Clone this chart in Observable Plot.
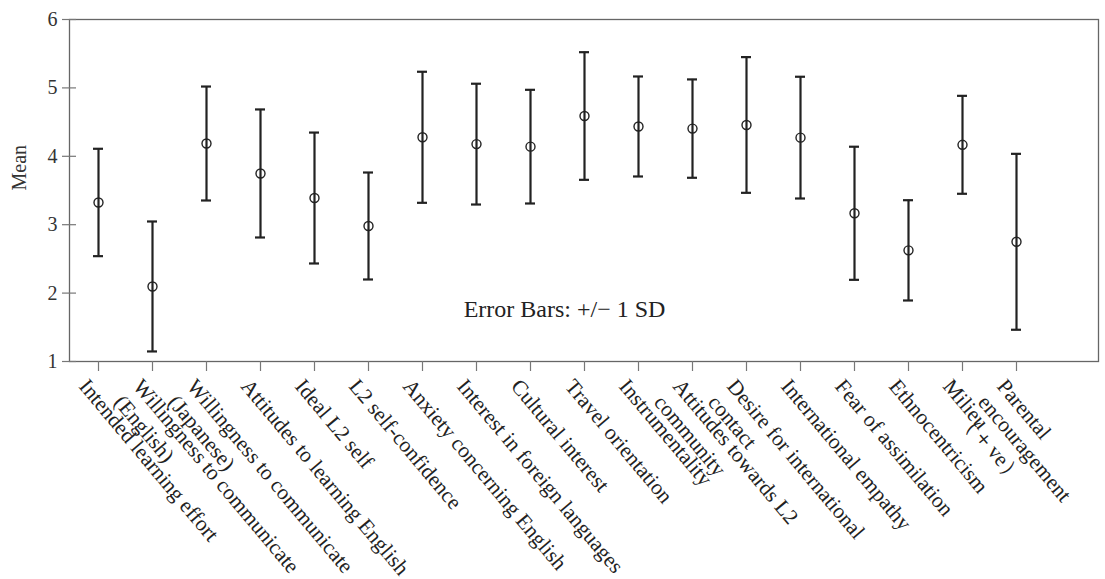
<!DOCTYPE html>
<html>
<head>
<meta charset="utf-8">
<script src="https://cdn.jsdelivr.net/npm/d3@7"></script>
<script src="https://cdn.jsdelivr.net/npm/@observablehq/plot@0.6"></script>
<style>
  body { margin: 0; background: #fff; }
</style>
</head>
<body>
<div id="chart"></div>
<script>
const categories = [
  "Intended learning effort",
  "Willingness to communicate\n(English)",
  "Willingness to communicate\n(Japanese)",
  "Attitudes to learning English",
  "Ideal L2 self",
  "L2 self-confidence",
  "Anxiety concerning English",
  "Interest in foreign languages",
  "Cultural interest",
  "Travel orientation",
  "Instrumentality",
  "Attitudes towards L2\ncommunity",
  "Desire for international\ncontact",
  "International empathy",
  "Fear of assimilation",
  "Ethnocentricism",
  "Milieu",
  "Parental\nencouragement\n（＋ve）"
];
const means = [3.325, 2.097, 4.187, 3.749, 3.390, 2.981, 4.278, 4.178, 4.141, 4.589, 4.436, 4.405, 4.458, 4.273, 3.167, 2.625, 4.168, 2.750];
const sds   = [0.785, 0.950, 0.833, 0.936, 0.957, 0.782, 0.958, 0.883, 0.831, 0.933, 0.731, 0.719, 0.992, 0.890, 0.973, 0.733, 0.716, 1.286];
const yTicks = [1, 2, 3, 4, 5, 6];
const annotation = "Error Bars: +/− 1 SD";

const data = categories.map((c, i) => ({cat: c, mean: means[i], lo: means[i] - sds[i], hi: means[i] + sds[i]}));

const FONT = "Liberation Serif, DejaVu Serif, serif";
const W = 1105, H = 579;
const chart = Plot.plot({
  width: W,
  height: H,
  marginTop: 19,
  marginBottom: 218,
  marginLeft: 69,
  marginRight: 7,
  style: {fontFamily: FONT, fontSize: "20px", color: "#222", background: "#fff"},
  x: {type: "band", domain: categories, range: [68.13, 1046.4], padding: 0},
  y: {domain: [1, 6]},
  marks: [
    Plot.frame({stroke: "#666", strokeWidth: 1.3}),
    // y axis: cross ticks
    Plot.axisY({ticks: yTicks, tickSize: 14, dx: 7, text: null, stroke: "#777", strokeWidth: 1.2, label: null}),
    // y tick labels
    Plot.text(yTicks, {y: d => d, frameAnchor: "left", dx: -12, textAnchor: "end", text: d => String(d), fontFamily: FONT, fontSize: 20, fill: "#333"}),
    Plot.text(["Mean"], {frameAnchor: "left", dx: -50, rotate: -90, fontFamily: FONT, fontSize: 20, fill: "#333"}),
    // x axis ticks
    Plot.axisX({tickSize: 10, text: null, stroke: "#777", strokeWidth: 1.2, label: null}),
    Plot.text(categories, {x: d => d, frameAnchor: "bottom", dy: 14, dx: -7, rotate: 50, textAnchor: "start", lineAnchor: "top", lineHeight: 1.15, fontFamily: FONT, fontSize: 21.5, fill: "#222"}),
    // error bars
    Plot.ruleX(data, {x: "cat", y1: "lo", y2: "hi", stroke: "#222", strokeWidth: 2.2}),
    Plot.tickY(data, {x: "cat", y: "hi", insetLeft: 22, insetRight: 22, stroke: "#222", strokeWidth: 2.2}),
    Plot.tickY(data, {x: "cat", y: "lo", insetLeft: 22, insetRight: 22, stroke: "#222", strokeWidth: 2.2}),
    Plot.dot(data, {x: "cat", y: "mean", r: 4.5, stroke: "#222", strokeWidth: 1.4, fill: "none"}),
    // annotation
    Plot.text([annotation], {x: () => categories[9], y: () => 1.77, dx: -20, fontFamily: FONT, fontSize: 24, fill: "#222"})
  ]
});
document.getElementById("chart").appendChild(chart);
</script>
</body>
</html>
